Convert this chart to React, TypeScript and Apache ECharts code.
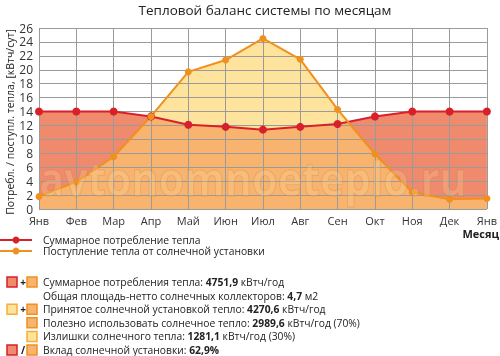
import React, { useEffect, useRef } from "react";
import * as echarts from "echarts";

const months = ["Янв", "Фев", "Мар", "Апр", "Май", "Июн", "Июл", "Авг", "Сен", "Окт", "Ноя", "Дек", "Янв"];
const consumption = [14, 14, 14, 13.3, 12.1, 11.8, 11.4, 11.8, 12.2, 13.3, 14, 14, 14];
const solar = [1.8, 3.9, 7.5, 13.3, 19.7, 21.4, 24.5, 21.5, 14.3, 7.9, 2.4, 1.4, 1.5];
const yTicks = { min: 0, max: 26, interval: 2 };

const titleText = "Тепловой баланс системы по месяцам";
const yAxisName = "Потребл. / поступл. тепла, [кВтч/сут]";
const xAxisName = "Месяц";
const watermark = "avtonomnoeteplo.ru";
const legendLines = ["Суммарное потребление тепла", "Поступление тепла от солнечной установки"];
const infoRows = [
  "Суммарное потребления тепла: {b|4751,9} кВтч/год",
  "Общая площадь-нетто солнечных коллекторов: {b|4,7} м2",
  "Принятое солнечной установкой тепло: {b|4270,6} кВтч/год",
  "Полезно использовать солнечное тепло: {b|2989,6} кВтч/год (70%)",
  "Излишки солнечного тепла: {b|1281,1} кВтч/год (30%)",
  "Вклад солнечной установки: {b|62,9%}",
];

const RED = "#d8202a";
const ORANGE = "#f0901f";
const SALMON = "#ef8a6c";
const LORANGE = "#f8b46e";
const YELLOW = "#fde39b";
const FONT = "'Open Sans', sans-serif";

function minSeries(): number[][] {
  const out: number[][] = [];
  for (let i = 0; i < consumption.length; i++) {
    out.push([i, Math.min(consumption[i], solar[i])]);
    if (i < consumption.length - 1) {
      const d0 = consumption[i] - solar[i];
      const d1 = consumption[i + 1] - solar[i + 1];
      if (d0 * d1 < 0) {
        const t = d0 / (d0 - d1);
        out.push([i + t, consumption[i] + t * (consumption[i + 1] - consumption[i])]);
      }
    }
  }
  return out;
}

function sq(x: number, y: number, fill: string, stroke: string) {
  return { type: "rect", shape: { x, y, width: 10, height: 10 }, style: { fill, stroke, lineWidth: 1.5 } };
}

export default function App() {
  const ref = useRef<HTMLDivElement>(null);
  useEffect(() => {
    const chart = echarts.init(ref.current!, null, { renderer: "svg" });
    const pairs = (arr: number[]) => arr.map((v, i) => [i, v]);
    const rowY = [282, 295.6, 309.2, 322.8, 336.4, 350];
    const graphic: any[] = [
      { type: "text", x: 265, y: 10, style: { text: titleText, font: `13.5px ${FONT}`, fill: "#222", align: "center", verticalAlign: "middle" } },
      { type: "text", x: 10, y: 122, rotation: Math.PI / 2, style: { text: yAxisName, font: `10.5px ${FONT}`, lineHeight: 11, fill: "#222", align: "center", verticalAlign: "middle" } },
      { type: "text", x: 499, y: 233, style: { text: xAxisName, font: `bold 11px ${FONT}`, fill: "#222", align: "right", verticalAlign: "middle" } },
      { type: "text", x: 253, y: 178, scaleX: 0.9, z: 6, style: { text: watermark, font: `bold 46px ${FONT}`, lineHeight: 40, fill: "rgba(255,225,165,0.22)", stroke: "rgba(190,120,50,0.3)", lineWidth: 1, align: "center", verticalAlign: "middle" } },
      { type: "line", shape: { x1: 0, y1: 240, x2: 32, y2: 240 }, style: { stroke: RED, lineWidth: 2 } },
      { type: "circle", shape: { cx: 16, cy: 240, r: 3.5 }, style: { fill: RED } },
      { type: "line", shape: { x1: 0, y1: 251, x2: 32, y2: 251 }, style: { stroke: ORANGE, lineWidth: 2 } },
      { type: "circle", shape: { cx: 16, cy: 251, r: 3.5 }, style: { fill: ORANGE } },
      { type: "text", x: 43, y: 240, style: { text: legendLines[0], font: `10.3px ${FONT}`, lineHeight: 11, fill: "#222", verticalAlign: "middle" } },
      { type: "text", x: 43, y: 251, style: { text: legendLines[1], font: `10.3px ${FONT}`, lineHeight: 11, fill: "#222", verticalAlign: "middle" } },
      sq(7, rowY[0] - 5, SALMON, RED),
      { type: "text", x: 23, y: rowY[0], style: { text: "+", font: `bold 10px ${FONT}`, fill: "#222", align: "center", verticalAlign: "middle" } },
      sq(27, rowY[0] - 5, LORANGE, ORANGE),
      sq(7, rowY[2] - 5, YELLOW, "#f4ae3c"),
      { type: "text", x: 23, y: rowY[2], style: { text: "+", font: `bold 10px ${FONT}`, fill: "#222", align: "center", verticalAlign: "middle" } },
      sq(27, rowY[2] - 5, LORANGE, ORANGE),
      sq(27, rowY[3] - 5, LORANGE, ORANGE),
      sq(27, rowY[4] - 5, YELLOW, "#f4ae3c"),
      sq(7, rowY[5] - 5, SALMON, RED),
      { type: "text", x: 23, y: rowY[5], style: { text: "/", font: `bold 10px ${FONT}`, fill: "#222", align: "center", verticalAlign: "middle" } },
      sq(27, rowY[5] - 5, LORANGE, ORANGE),
    ];
    infoRows.forEach((t, i) => {
      graphic.push({
        type: "text", x: 43, y: rowY[i],
        style: { text: t, font: `10.3px ${FONT}`, lineHeight: 12, fill: "#222", verticalAlign: "middle", rich: { b: { fontWeight: "bold", fontSize: 10.3, lineHeight: 12, fontFamily: FONT, fill: "#222" } } },
      });
    });
    chart.setOption({
      animation: false,
      grid: { left: 39, right: 10, top: 28, height: 181, containLabel: false },
      xAxis: {
        type: "value", min: 0, max: 12, interval: 1, z: 4,
        axisLine: { show: false }, axisTick: { show: false },
        splitLine: { show: true, lineStyle: { color: "#9a9a9a", width: 1 } },
        axisLabel: { formatter: (v: number) => months[v] ?? "", color: "#333", fontSize: 11, fontFamily: FONT, margin: 6 },
      },
      yAxis: {
        type: "value", min: yTicks.min, max: yTicks.max, interval: yTicks.interval, z: 4,
        axisLine: { show: false }, axisTick: { show: false },
        splitLine: { show: true, lineStyle: { color: "#9a9a9a", width: 1 } },
        axisLabel: { color: "#333", fontSize: 12, lineHeight: 12, fontFamily: FONT, margin: 6 },
      },
      graphic,
      series: [
        { type: "line", data: pairs(consumption), symbol: "none", lineStyle: { width: 0 }, areaStyle: { color: SALMON, opacity: 1 }, z: 1 },
        { type: "line", data: pairs(solar), symbol: "none", lineStyle: { width: 0 }, areaStyle: { color: YELLOW, opacity: 1 }, z: 2 },
        { type: "line", data: minSeries(), symbol: "none", lineStyle: { width: 0 }, areaStyle: { color: LORANGE, opacity: 1 }, z: 3 },
        { type: "line", data: pairs(consumption), symbol: "circle", symbolSize: 8, itemStyle: { color: RED }, lineStyle: { color: RED, width: 2 }, z: 5 },
        { type: "line", data: pairs(solar), symbol: "circle", symbolSize: 7, itemStyle: { color: ORANGE }, lineStyle: { color: ORANGE, width: 2 }, z: 5 },
      ],
    });
    return () => chart.dispose();
  }, []);
  return <div ref={ref} style={{ position: "fixed", left: 0, top: 0, width: 500, height: 356 }} />;
}
